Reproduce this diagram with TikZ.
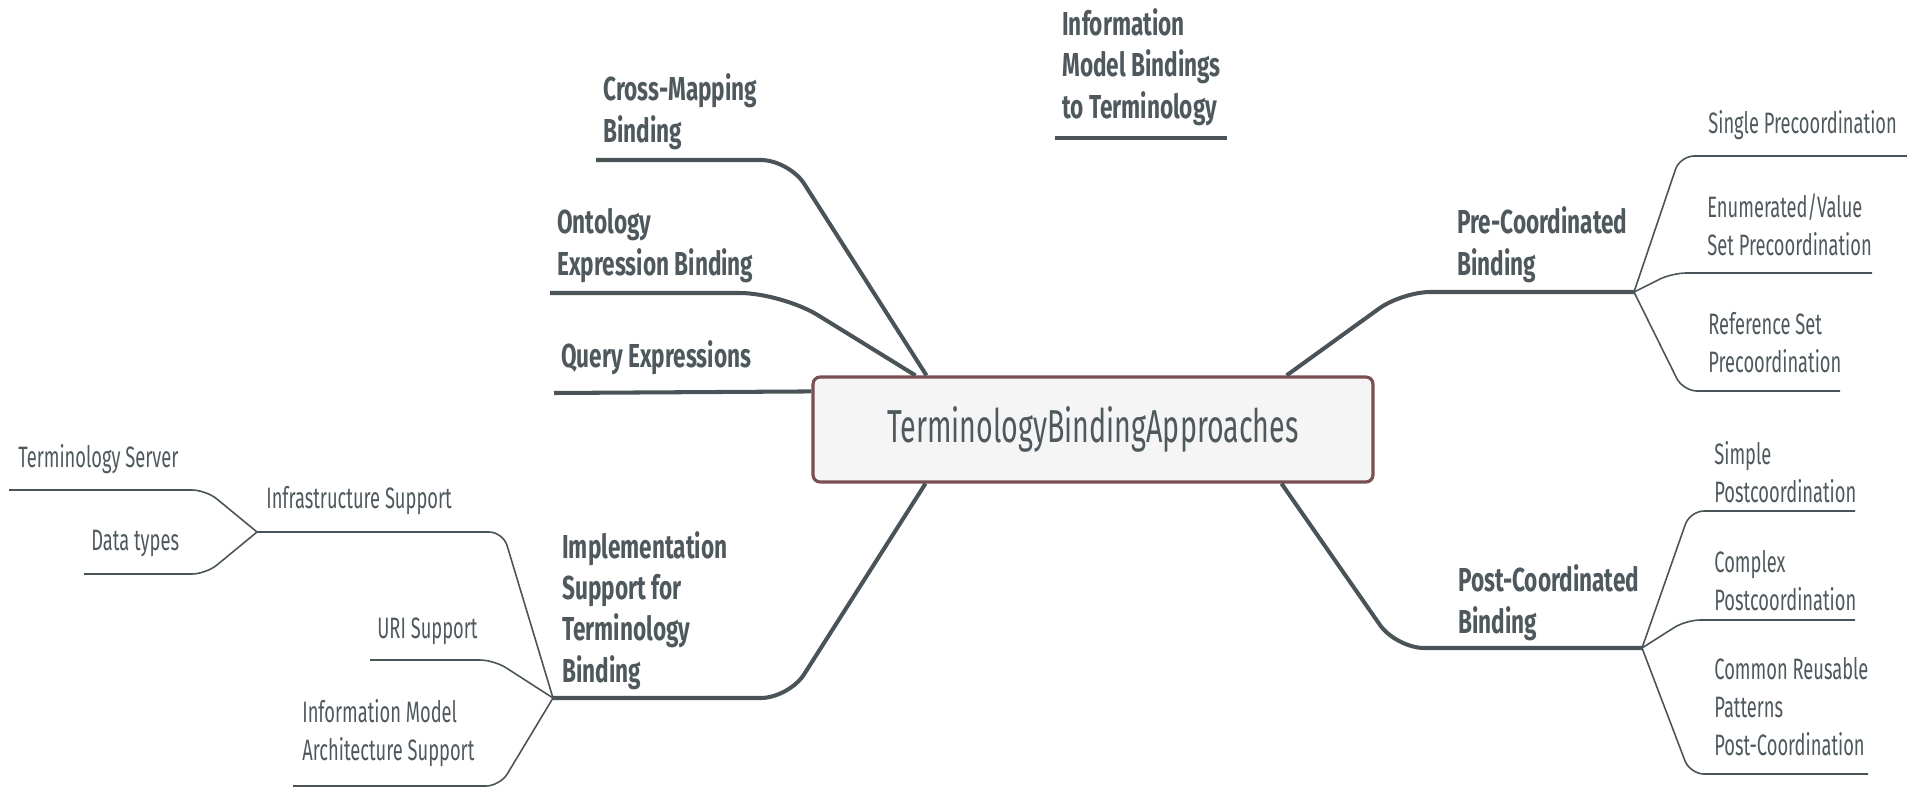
\documentclass[tikz,border=0pt]{standalone}
\usepackage{fontspec}
\setmainfont{Fira Sans}[FakeStretch=0.62, BoldFeatures={FakeStretch=0.68}]
\usetikzlibrary{calc}
\definecolor{txt}{HTML}{4F595D}
\definecolor{ln}{HTML}{4A5458}
\definecolor{boxbd}{HTML}{7A4E52}
\definecolor{boxfill}{HTML}{F5F5F5}
\begin{document}
\begin{tikzpicture}[x=0.02cm,y=-0.02cm,
  lbl/.style={anchor=base west, inner sep=0pt, align=left, text=txt, font=\fontsize{16.8}{21.5}\selectfont},
  blbl/.style={anchor=base west, inner sep=0pt, align=left, text=txt, font=\bfseries\fontsize{18.9}{23.5}\selectfont},
  mainln/.style={draw=ln, line width=2.3pt, rounded corners=16pt},
  subln/.style={draw=ln, line width=0.9pt, rounded corners=8pt},
  rootbox/.style={draw=boxbd, fill=boxfill, line width=1.8pt, rounded corners=4pt,
    minimum width=11.2cm, minimum height=2.1cm, inner sep=0pt, text=txt,
    font=\fontsize{26.3}{30}\selectfont}
]
\useasboundingbox (0,0) rectangle (1907,788);

% central node
\node[rootbox] (root) at (1093,429.5) {TerminologyBindingApproaches};

% labels (anchored at the baseline of their last line)
\node[blbl] (ib) at (1062,118) {Information\\Model Bindings\\to Terminology};
\node[blbl] (cm) at (603,142) {Cross-Mapping\\Binding};
\node[blbl] (on) at (557,275) {Ontology\\Expression Binding};
\node[blbl] (qe) at (561,367) {Query Expressions};
\node[blbl] (im) at (562,682) {Implementation\\Support for\\Terminology\\Binding};
\node[blbl] (pr) at (1457,275) {Pre-Coordinated\\Binding};
\node[blbl] (po) at (1458,633) {Post-Coordinated\\Binding};

\node[lbl] (sp) at (1708,133) {Single Precoordination};
\node[lbl] (ev) at (1707,255) {Enumerated/Value\\Set Precoordination};
\node[lbl] (rs) at (1708,372) {Reference Set\\Precoordination};
\node[lbl] (sip) at (1714,502) {Simple\\Postcoordination};
\node[lbl] (cp) at (1714,610) {Complex\\Postcoordination};
\node[lbl] (cr) at (1714,755) {Common Reusable\\Patterns\\Post-Coordination};
\node[lbl] (ts) at (18,467) {Terminology Server};
\node[lbl] (is) at (266,508) {Infrastructure Support};
\node[lbl] (dt) at (91,550) {Data types};
\node[lbl] (uri) at (377,638) {URI Support};
\node[lbl] (ima) at (302,760) {Information Model\\Architecture Support};

% named points
\coordinate (ibU) at (1055,138); \coordinate (ibE) at (1227,138);
\coordinate (cmU) at (596,160);  \coordinate (cmC) at (789,160);
\coordinate (onU) at (550,293);  \coordinate (onC) at (782,293);
\coordinate (qeU) at (554,393);
\coordinate (imJ) at (553,698);  \coordinate (imC) at (789,698);
\coordinate (prC) at (1402,292); \coordinate (prJ) at (1634,292);
\coordinate (poC) at (1396,648); \coordinate (poJ) at (1642,648);

\coordinate (spC) at (1680,156); \coordinate (spE) at (1907,156);
\coordinate (evC) at (1672,273); \coordinate (evE) at (1872,273);
\coordinate (rsC) at (1683,391); \coordinate (rsE) at (1840,391);
\coordinate (sipC) at (1690,511); \coordinate (sipE) at (1855,511);
\coordinate (cpC) at (1686,620); \coordinate (cpE) at (1855,620);
\coordinate (crC) at (1690,774); \coordinate (crE) at (1868,774);

\coordinate (isC) at (503,532); \coordinate (isJ) at (257,532);
\coordinate (uriC) at (494,660); \coordinate (uriE) at (370,660);
\coordinate (imaC) at (500,786); \coordinate (imaE) at (293,786);
\coordinate (tsC) at (206,490); \coordinate (tsE) at (9,490);
\coordinate (dtC) at (206,574); \coordinate (dtE) at (84,574);

% main branches
\draw[mainln] (ibU) -- (ibE);
\draw[mainln] (cmU) -- (cmC) -- ($(root.north west)+(115,0)$);
\draw[mainln, rounded corners=24pt] (onU) -- (onC) -- ($(root.north west)+(104,0)$);
\draw[mainln] (qeU) -- ($(root.north west)+(0,16)$);
\draw[mainln] (imJ) -- (imC) -- ($(root.south west)+(114,0)$);
\draw[mainln] ($(root.north east)+(-88,0)$) -- (prC) -- (prJ);
\draw[mainln] ($(root.south east)+(-93,0)$) -- (poC) -- (poJ);

% sub branches
\draw[subln] (prJ) -- (spC) -- (spE);
\draw[subln] (prJ) -- (evC) -- (evE);
\draw[subln] (prJ) -- (rsC) -- (rsE);
\draw[subln] (poJ) -- (sipC) -- (sipE);
\draw[subln] (poJ) -- (cpC) -- (cpE);
\draw[subln] (poJ) -- (crC) -- (crE);
\draw[subln] (imJ) -- (isC) -- (isJ);
\draw[subln] (imJ) -- (uriC) -- (uriE);
\draw[subln] (imJ) -- (imaC) -- (imaE);
\draw[subln] (isJ) -- (tsC) -- (tsE);
\draw[subln] (isJ) -- (dtC) -- (dtE);
\end{tikzpicture}
\end{document}
